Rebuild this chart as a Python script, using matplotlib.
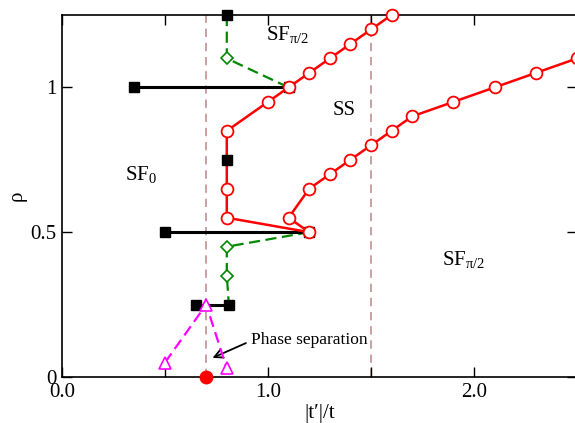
import matplotlib
matplotlib.use("Agg")
import matplotlib.pyplot as plt

plt.rcParams['font.family'] = ['Liberation Serif', 'DejaVu Serif']
plt.rcParams['mathtext.fontset'] = 'custom'
plt.rcParams['mathtext.rm'] = 'Liberation Serif'
plt.rcParams['mathtext.it'] = 'Liberation Serif:italic'

# SS boundary (red open circles), traced as one path
ss_t = [1.6, 1.5, 1.4, 1.3, 1.2, 1.1, 1.0, 0.8, 0.8, 0.8, 0.8, 1.2,
        1.1, 1.2, 1.3, 1.4, 1.5, 1.6, 1.7, 1.9, 2.1, 2.3, 2.5]
ss_rho = [1.25, 1.2, 1.15, 1.1, 1.05, 1.0, 0.95, 0.85, 0.75, 0.65, 0.55, 0.5,
          0.55, 0.65, 0.7, 0.75, 0.8, 0.85, 0.9, 0.95, 1.0, 1.05, 1.1]
# the point at rho=0.75 sits under a black square, no circle drawn there
ss_marks = [i for i in range(len(ss_t)) if i != 8]

# black squares / horizontal bars
bars = [([0.35, 1.1], [1.0, 1.0]),
        ([0.5, 1.2], [0.5, 0.5]),
        ([0.65, 0.81], [0.25, 0.25])]
sq_t = [0.8, 0.8]
sq_rho = [1.25, 0.75]

# green dashed with open diamonds
g_upper_t = [0.8, 0.8, 1.1]
g_upper_rho = [1.25, 1.1, 1.0]
g_lower_t = [1.2, 0.8, 0.8, 0.81]
g_lower_rho = [0.5, 0.45, 0.35, 0.25]
dia_t = [0.8, 0.8, 0.8]
dia_rho = [1.1, 0.45, 0.35]

# magenta dashed with open triangles
ps_t = [0.5, 0.7, 0.8]
ps_rho = [0.05, 0.25, 0.03]

# phase separation point and vertical guides
ps_point = (0.7, 0.0)
vlines = [0.7, 1.5]

fig = plt.figure(figsize=(5.75, 4.23), dpi=100)
ax = fig.add_axes([62/575, 46/423, 515/575, 362/423])

for xv in vlines:
    ax.axvline(xv, color='#c09090', lw=1.2, ls=(0, (5, 3.5)), zorder=1)

ax.plot(g_upper_t, g_upper_rho, color='#008800', lw=1.6, ls=(0, (5, 2.5)), zorder=2, clip_on=False)
ax.plot(g_lower_t, g_lower_rho, color='#008800', lw=1.6, ls=(0, (5, 2.5)), zorder=2, clip_on=False)
ax.plot(dia_t, dia_rho, ls='none', marker='D', ms=6, mfc='white', mec='#008800', mew=1.2, zorder=3)

for bt, br in bars:
    ax.plot(bt, br, color='black', lw=2.2, marker='s', ms=7, zorder=3, clip_on=False)
ax.plot(sq_t, sq_rho, ls='none', marker='s', ms=7, color='black', zorder=5, clip_on=False)

ax.plot(ss_t, ss_rho, color='red', lw=1.8, marker='o', ms=8.5, mfc='white', mec='red', mew=1.3,
        markevery=ss_marks, zorder=4, clip_on=False)

ax.plot(ps_t, ps_rho, color='magenta', lw=1.6, ls=(0, (5, 2.5)), marker='^', ms=8.5,
        mfc='white', mec='magenta', mew=1.2, zorder=4)
ax.plot(*ps_point, marker='o', ms=9, color='red', mec='red', ls='none', zorder=6, clip_on=False)

ax.set_xlim(0, 2.5)
ax.set_ylim(0, 1.25)
ax.set_xticks([0.0, 0.5, 1.0, 1.5, 2.0])
ax.set_xticklabels(['0.0', '', '1.0', '', '2.0'])
ax.set_yticks([0, 0.5, 1])
ax.set_yticklabels(['0', '0.5', '1'])
ax.tick_params(direction='in', length=7, width=1, labelsize=15, top=True, right=True, pad=4)
for sp in ax.spines.values():
    sp.set_linewidth(1.2)

ax.set_xlabel("|t\u2032|/t", fontsize=15, labelpad=2)
ax.set_ylabel("\u03c1", fontsize=15, labelpad=3)

ax.text(0.306, 0.68, r'SF$_{\mathrm{0}}$', fontsize=15)
ax.text(0.99, 1.162, r'SF$_{\mathrm{\pi/2}}$', fontsize=15)
ax.text(1.315, 0.903, 'SS', fontsize=15)
ax.text(1.845, 0.386, r'SF$_{\mathrm{\pi/2}}$', fontsize=15)

ax.text(0.917, 0.114, 'Phase separation', fontsize=12.5)
ax.annotate('', xy=(0.718, 0.062), xytext=(0.905, 0.121),
            arrowprops=dict(arrowstyle='->', color='black', lw=1.3, mutation_scale=15))

fig.savefig('out.png', dpi=100)
